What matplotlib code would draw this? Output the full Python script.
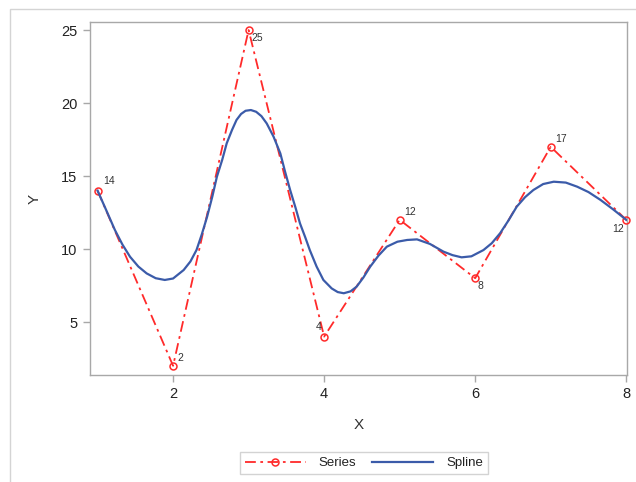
import matplotlib
matplotlib.use('Agg')
import matplotlib.pyplot as plt
from matplotlib.patches import Rectangle

# series values
x_vals = [1, 2, 3, 4, 5, 6, 7, 8]
y_vals = [14, 2, 25, 4, 12, 8, 17, 12]

# spline curve
spline_x = [1.0, 1.12, 1.23, 1.33, 1.43, 1.54, 1.65, 1.77, 1.89, 2.0, 2.14, 2.23, 2.31,
            2.38, 2.45, 2.52, 2.58, 2.65, 2.71, 2.78, 2.84, 2.9, 2.96, 3.03, 3.1,
            3.17, 3.24, 3.33, 3.42, 3.48, 3.55, 3.62, 3.68, 3.75, 3.81, 3.9, 3.99,
            4.1, 4.18, 4.26, 4.35, 4.43, 4.52, 4.61, 4.72, 4.83, 4.97, 5.1, 5.23,
            5.4, 5.58, 5.7, 5.82, 5.95, 6.11, 6.22, 6.33, 6.44, 6.55, 6.66, 6.77,
            6.9, 7.04, 7.2, 7.35, 7.5, 7.66, 7.83, 8.0]
spline_y = [14.0, 12.6, 11.3, 10.3, 9.47, 8.8, 8.33, 8.0, 7.88, 7.98, 8.56, 9.15, 9.93,
            11.0, 12.2, 13.6, 14.95, 16.1, 17.24, 18.15, 18.84, 19.25, 19.47, 19.52, 19.4,
            19.1, 18.6, 17.7, 16.55, 15.35, 14.04, 12.85, 11.76, 10.8, 9.93, 8.8, 7.88,
            7.3, 7.05, 6.97, 7.1, 7.42, 8.05, 8.79, 9.55, 10.16, 10.5, 10.62, 10.66,
            10.35, 9.82, 9.58, 9.43, 9.5, 9.93, 10.4, 11.08, 11.95, 12.9, 13.55, 14.04,
            14.45, 14.61, 14.55, 14.27, 13.9, 13.36, 12.7, 12.0]

# data label offsets in points (dx, dy) and alignment
label_pos = [(4, 3, 'left', 'bottom'), (3, 2, 'left', 'bottom'), (2, -2, 'left', 'top'),
             (-2, 3, 'right', 'bottom'), (3, 2, 'left', 'bottom'), (2, -2, 'left', 'top'),
             (3, 2, 'left', 'bottom'), (-2, -3, 'right', 'top')]

plt.rcParams['font.family'] = ['Liberation Sans', 'DejaVu Sans']

fig = plt.figure(figsize=(6.36, 4.82), dpi=100)
fig.patches.append(Rectangle((10 / 636, -0.1), 1.2, 1 - 9 / 482 + 0.1,
                             transform=fig.transFigure, fill=False,
                             edgecolor='#d4d4d4', linewidth=1.0))

ax = fig.add_axes([90 / 636, 1 - 375 / 482, (627 - 90) / 636, (375 - 22) / 482])

red = '#ff2a2a'
blue = '#3b5ba9'

ser, = ax.plot(x_vals, y_vals, color=red, linewidth=1.3, dashes=(6, 2.5, 1.5, 2.5),
               marker='o', markersize=5, markerfacecolor='none',
               markeredgecolor=red, markeredgewidth=1.1, clip_on=False, zorder=3,
               label='Series')
spl, = ax.plot(spline_x, spline_y, color=blue, linewidth=1.6, zorder=4, label='Spline',
               solid_joinstyle='round')

for xv, yv, (dx, dy, ha, va) in zip(x_vals, y_vals, label_pos):
    ax.annotate(str(yv), (xv, yv), xytext=(dx, dy), textcoords='offset points',
                ha=ha, va=va, fontsize=7.5, color='#333333')

ax.set_xlim(0.9, 8.01)
ax.set_ylim(1.37, 25.55)
ax.set_xticks([2, 4, 6, 8])
ax.set_yticks([5, 10, 15, 20, 25])

for s in ax.spines.values():
    s.set_color('#a8a8a8')
    s.set_linewidth(1.0)
ax.tick_params(axis='both', colors='#a8a8a8', labelcolor='#222222', labelsize=10.5,
               length=5, width=1.0, direction='out', pad=4)

ax.set_xlabel('X', fontsize=11, color='#333333', labelpad=12)
ax.set_ylabel('Y', fontsize=11, color='#333333', labelpad=14)

leg = fig.legend(handles=[ser, spl], loc='center', bbox_to_anchor=(364 / 636, 1 - 463 / 482),
                 ncol=2, fontsize=9.5, frameon=True, fancybox=False, handlelength=4.6,
                 columnspacing=1.2, borderpad=0.35, handletextpad=1.0)
leg.get_frame().set_edgecolor('#c8c8c8')
leg.get_frame().set_linewidth(1.0)
for t in leg.get_texts():
    t.set_color('#222222')

fig.savefig('out.png', dpi=100)
